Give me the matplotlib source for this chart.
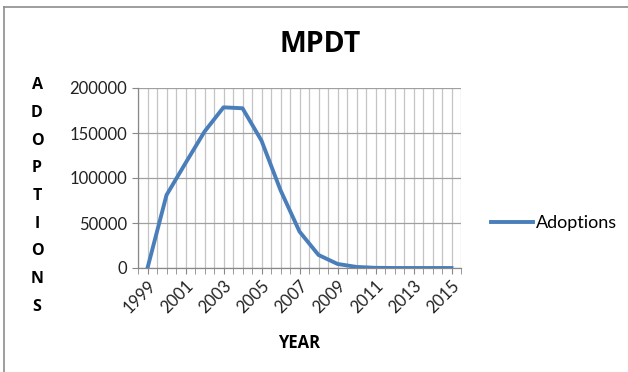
import matplotlib
matplotlib.use("Agg")
import matplotlib.pyplot as plt
from matplotlib.lines import Line2D
import numpy as np

years = list(range(1999, 2016))
adoptions = [0, 81000, 116500, 151500, 178500, 177500, 141500, 86500,
             40500, 14500, 4500, 1200, 200, 0, 0, 0, 0]
tick_years = list(range(1999, 2016, 2))
y_ticks = [0, 50000, 100000, 150000, 200000]

title = "MPDT"
x_title = "YEAR"
y_title = "ADOPTIONS"
series_name = "Adoptions"

plt.rcParams["font.family"] = ["Lato", "DejaVu Sans"]
bold_font = ["Open Sans", "DejaVu Sans"]

W, H = 628, 372
fig = plt.figure(figsize=(W / 100, H / 100), dpi=100)
fig.patch.set_facecolor("white")

# chart area frame (left and top edges visible)
frame_col = "#8C8C8C"
fig.add_artist(Line2D([4 / W, 4 / W], [0, 1 - 7 / H], color=frame_col, lw=1.2,
                      transform=fig.transFigure))
fig.add_artist(Line2D([4 / W, 1], [1 - 7 / H, 1 - 7 / H], color=frame_col, lw=1.2,
                      transform=fig.transFigure))

left, right, top, bottom = 138, 461, 88, 268
ax = fig.add_axes([left / W, 1 - bottom / H, (right - left) / W, (bottom - top) / H])

ax.plot(years, adoptions, color="#4A7EBB", lw=2.8, solid_joinstyle="round",
        label=series_name, zorder=3)

ax.set_xlim(1998.5, 2015.5)
ax.set_ylim(0, 200000)

# gridlines at every half year and every 50000
for gx in np.arange(1998.5, 2015.51, 0.5):
    ax.axvline(gx, color="#C4C4C4", lw=0.9, zorder=1)
for gy in y_ticks:
    ax.axhline(gy, color="#A0A0A0", lw=0.9, zorder=1)

ax.set_yticks(y_ticks)
ax.set_yticklabels([str(v) for v in y_ticks], fontsize=12, color="#222222")
ax.set_xticks(tick_years)
ax.set_xticklabels([str(y) for y in tick_years], rotation=45, ha="right",
                   rotation_mode="anchor", fontsize=12, color="#222222")
ax.set_xticks(np.arange(1998.5, 2015.51, 0.5), minor=True)
ax.tick_params(axis="x", which="both", length=4, color="#888888", direction="out",
               pad=3)
ax.tick_params(axis="y", length=4, color="#888888", pad=4)

for s in ["top", "right"]:
    ax.spines[s].set_visible(False)
for s in ["left", "bottom"]:
    ax.spines[s].set_color("#888888")
    ax.spines[s].set_linewidth(0.9)

fig.text(320 / W, 1 - 45 / H, title, ha="center", va="center", fontsize=20.5,
         fontweight="bold", family=bold_font, color="black")
fig.text(299 / W, 1 - 343 / H, x_title, ha="center", va="center", fontsize=12,
         fontweight="bold", family=bold_font, color="black")
fig.text(37 / W, 1 - 196 / H, "\n".join(y_title), ha="center", va="center",
         fontsize=11.5, fontweight="bold", family=bold_font, color="black",
         linespacing=1.97)

ax.legend(loc="center left", bbox_to_anchor=(491 / W, 1 - 223 / H),
          bbox_transform=fig.transFigure, frameon=False, fontsize=13,
          handlelength=2.35, handletextpad=0.15, borderaxespad=0, borderpad=0)

fig.savefig("out.png", dpi=100, facecolor="white")
